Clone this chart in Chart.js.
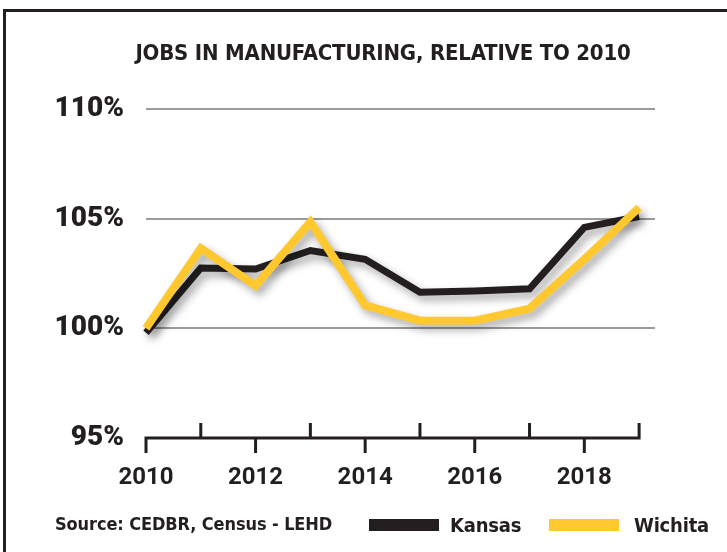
<!DOCTYPE html>
<html>
<head>
<meta charset="utf-8">
<script src="https://cdn.jsdelivr.net/npm/chart.js@4.4.1/dist/chart.umd.min.js"></script>
<style>
  body { margin: 0; background: #fff; width: 727px; height: 552px; overflow: hidden; position: relative; }
  #frame { position: absolute; left: 3px; top: 9px; width: 800px; height: 600px;
           border-left: 3px solid #231f20; border-top: 3px solid #231f20; }
  #chartBox { position: absolute; left: 0; top: 0; width: 727px; height: 552px; }
  .narrow { font-family: "Liberation Sans Narrow", "DejaVu Sans Condensed", sans-serif; color: #231f20; position: absolute; white-space: nowrap; }
  #title { left: 115px; width: 536px; top: 41px; text-align: center; font-size: 22px; line-height: 23px; font-weight: bold; letter-spacing: -0.2px; }
  #source { left: 55px; top: 514px; font-size: 18px; line-height: 19px; font-weight: bold; letter-spacing: -0.1px; }
  .swatch { position: absolute; top: 519px; height: 12px; width: 70px; }
  .legtext { top: 515px; font-size: 20px; line-height: 21px; font-weight: bold; letter-spacing: -0.2px; }
</style>
</head>
<body>
<div id="frame"></div>
<div id="chartBox"><canvas id="jobsChart" width="727" height="552"></canvas></div>
<div id="title" class="narrow">JOBS IN MANUFACTURING, RELATIVE TO 2010</div>
<div id="source" class="narrow">Source: CEDBR, Census - LEHD</div>
<div class="swatch" style="left:369px;background:#231f20"></div>
<div class="narrow legtext" style="left:450px">Kansas</div>
<div class="swatch" style="left:549px;background:#fec82e"></div>
<div class="narrow legtext" style="left:634px">Wichita</div>
<script>
const years = [2010, 2011, 2012, 2013, 2014, 2015, 2016, 2017, 2018, 2019];
const kansas = [99.8, 102.75, 102.7, 103.55, 103.15, 101.65, 101.7, 101.8, 104.6, 105.1];
const wichita = [100.0, 103.65, 101.95, 104.85, 101.05, 100.35, 100.35, 100.9, 103.15, 105.5];
const yTicks = [95, 100, 105, 110];
const xLabelYears = [2010, 2012, 2014, 2016, 2018];

const ink = '#231f20';
const gold = '#fec82e';

// drop shadow under the two lines
const lineShadow = {
  id: 'lineShadow',
  beforeDatasetDraw(chart) {
    const ctx = chart.ctx;
    ctx.save();
    ctx.shadowColor = 'rgba(0,0,0,0.35)';
    ctx.shadowBlur = 8;
    ctx.shadowOffsetX = 4;
    ctx.shadowOffsetY = 5;
  },
  afterDatasetDraw(chart) {
    chart.ctx.restore();
  }
};

// baseline with ticks: even years point down, odd years point up
const yearTicks = {
  id: 'yearTicks',
  afterDraw(chart) {
    const { ctx, scales: { x }, chartArea } = chart;
    const y0 = chartArea.bottom;
    ctx.save();
    ctx.strokeStyle = ink;
    ctx.lineWidth = 3;
    ctx.beginPath();
    ctx.moveTo(x.getPixelForValue(years[0]) - 1.5, y0);
    ctx.lineTo(x.getPixelForValue(years[years.length - 1]) + 1.5, y0);
    years.forEach((yr, i) => {
      const px = x.getPixelForValue(yr);
      ctx.moveTo(px, y0);
      ctx.lineTo(px, i % 2 === 0 ? y0 + 15 : y0 - 15);
    });
    ctx.stroke();
    ctx.restore();
  }
};

const toPoints = arr => years.map((yr, i) => ({ x: yr, y: arr[i] }));

new Chart(document.getElementById('jobsChart'), {
  type: 'line',
  data: {
    datasets: [
      { label: 'Kansas', data: toPoints(kansas), borderColor: ink, borderWidth: 7, order: 2 },
      { label: 'Wichita', data: toPoints(wichita), borderColor: gold, borderWidth: 8, order: 1 }
    ]
  },
  options: {
    responsive: false,
    animation: false,
    events: [],
    layout: { padding: { top: 109, right: 72, left: 0, bottom: 0 } },
    elements: {
      point: { radius: 0 },
      line: { tension: 0, borderJoinStyle: 'miter', borderCapStyle: 'butt', fill: false }
    },
    datasets: { line: { clip: false } },
    plugins: { legend: { display: false }, tooltip: { enabled: false }, title: { display: false } },
    scales: {
      x: {
        type: 'linear',
        min: 2010,
        max: 2019.29,
        afterBuildTicks: s => { s.ticks = xLabelYears.map(v => ({ value: v })); },
        afterFit: s => { s.height = 114; },
        ticks: { color: ink, padding: 18, font: { family: 'Roboto', weight: 'bold', size: 24 }, callback: v => String(v) },
        grid: { display: false },
        border: { display: false }
      },
      y: {
        min: 95,
        max: 110,
        afterBuildTicks: s => { s.ticks = yTicks.map(v => ({ value: v })); },
        afterFit: s => { s.width = 146; },
        ticks: { color: ink, padding: 22, font: { family: 'Roboto', weight: 900, size: 28 }, callback: v => v + '%' },
        grid: { drawTicks: false, lineWidth: 2, color: c => c.tick && c.tick.value === 95 ? 'rgba(0,0,0,0)' : '#9a9a9a' },
        border: { display: false }
      }
    }
  },
  plugins: [lineShadow, yearTicks]
});
</script>
</body>
</html>
